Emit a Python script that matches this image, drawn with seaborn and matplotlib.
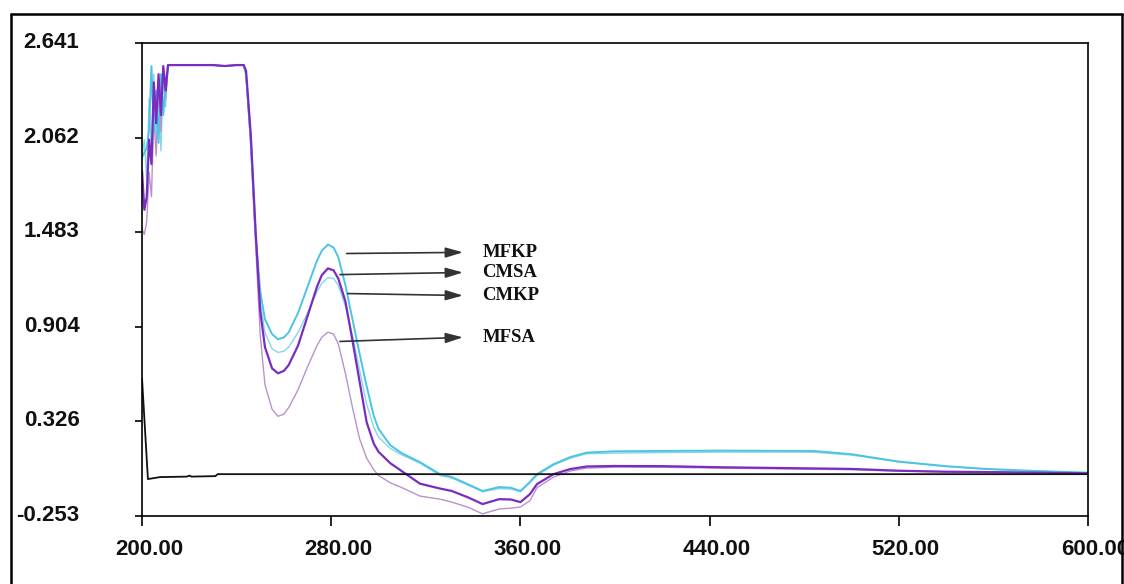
import matplotlib
matplotlib.use("Agg")
import matplotlib.pyplot as plt
import seaborn as sns
import pandas as pd
from matplotlib.lines import Line2D
from matplotlib.transforms import ScaledTranslation

# Wavelength grid (nm) shared by the four spectra
wl = [200, 201, 202, 203, 204, 205, 206, 207, 208, 209, 210, 211, 215, 220, 225,
      230, 235, 240, 243, 244, 246, 248, 250, 252, 255, 257.5, 260, 262, 266, 270,
      274, 276, 278.6, 281, 283, 286, 289, 292, 295, 298, 300, 305, 310, 317.5, 326,
      331, 338, 344, 351, 356, 360, 364, 367, 374, 381, 388, 400, 420, 445, 484,
      500, 520, 540, 556, 575, 600]

mfkp = [1.94, 1.97, 2.00, 2.11, 2.50, 2.10, 2.35, 2.03, 2.45, 2.20, 2.40, 2.506, 2.506, 2.506, 2.506,
        2.506, 2.50, 2.506, 2.506, 2.45, 2.05, 1.48, 1.12, 0.95, 0.86, 0.828, 0.84, 0.87, 0.99, 1.15,
        1.31, 1.37, 1.408, 1.39, 1.33, 1.16, 0.95, 0.74, 0.54, 0.36, 0.28, 0.18, 0.13, 0.077, 0.003,
        -0.015, -0.06, -0.10, -0.076, -0.08, -0.10, -0.045, 0.003, 0.064, 0.107, 0.135, 0.143, 0.145, 0.147, 0.145,
        0.125, 0.08, 0.052, 0.036, 0.024, 0.012]

cmsa = [1.86, 1.62, 1.70, 2.05, 1.90, 2.40, 2.15, 2.45, 2.20, 2.50, 2.35, 2.506, 2.506, 2.506, 2.506,
        2.506, 2.50, 2.506, 2.506, 2.47, 2.08, 1.50, 1.00, 0.78, 0.65, 0.62, 0.635, 0.67, 0.79, 0.97,
        1.15, 1.22, 1.262, 1.25, 1.20, 1.06, 0.82, 0.57, 0.32, 0.19, 0.14, 0.07, 0.02, -0.055, -0.085,
        -0.10, -0.14, -0.18, -0.15, -0.152, -0.168, -0.12, -0.058, 0.003, 0.034, 0.05, 0.053, 0.052, 0.045, 0.038,
        0.035, 0.024, 0.018, 0.016, 0.013, 0.008]

cmkp = [1.95, 2.05, 1.80, 2.30, 1.95, 2.45, 2.00, 2.40, 1.98, 2.45, 2.25, 2.506, 2.506, 2.506, 2.506,
        2.506, 2.50, 2.506, 2.506, 2.44, 2.02, 1.45, 1.05, 0.87, 0.77, 0.748, 0.755, 0.78, 0.87, 0.99,
        1.12, 1.17, 1.205, 1.20, 1.16, 1.03, 0.85, 0.64, 0.43, 0.29, 0.23, 0.16, 0.12, 0.07, -0.005,
        -0.02, -0.065, -0.105, -0.085, -0.088, -0.105, -0.05, -0.005, 0.058, 0.10, 0.128, 0.132, 0.135, 0.138, 0.137,
        0.12, 0.078, 0.05, 0.034, 0.022, 0.012]

mfsa = [1.50, 1.47, 1.55, 1.85, 1.70, 2.20, 1.95, 2.35, 2.10, 2.48, 2.30, 2.506, 2.506, 2.506, 2.506,
        2.506, 2.50, 2.506, 2.506, 2.45, 2.00, 1.42, 0.85, 0.55, 0.40, 0.357, 0.37, 0.41, 0.52, 0.66,
        0.79, 0.84, 0.872, 0.86, 0.80, 0.62, 0.41, 0.22, 0.10, 0.03, -0.005, -0.05, -0.08, -0.131, -0.15,
        -0.168, -0.20, -0.24, -0.21, -0.205, -0.198, -0.16, -0.08, -0.015, 0.022, 0.04, 0.046, 0.045, 0.040, 0.033,
        0.030, 0.022, 0.016, 0.014, 0.012, 0.008]

# Blank / reference baseline
base_wl = [200, 202.5, 207.6, 219, 220, 221, 231, 232, 600]
base = [0.59, -0.027, -0.015, -0.012, -0.006, -0.012, -0.009, 0.003, 0.003]

# Arrow labels: name, arrow start (nm, abs), arrow end (nm, abs)
labels = ["MFKP", "CMSA", "CMKP", "MFSA"]
arrow_start = [(286.5, 1.353), (283.7, 1.224), (287.0, 1.108), (283.7, 0.815)]
arrow_end = [(335.7, 1.360), (335.7, 1.237), (335.7, 1.096), (335.7, 0.840)]

xticks = [200, 280, 360, 440, 520, 600]
xtick_labels = ["200.00", "280.00", "360.00", "440.00", "520.00", "600.00"]
yticks = [-0.253, 0.326, 0.904, 1.483, 2.062, 2.641]
ytick_labels = ["-0.253", "0.326", "0.904", "1.483", "2.062", "2.641"]

sns.set_style("white")
plt.rcParams["font.family"] = ["Liberation Sans", "DejaVu Sans"]

W, H = 1124, 584
fig = plt.figure(figsize=(W / 100, H / 100), dpi=100)
ax = fig.add_axes([142 / W, (H - 516) / H, 946 / W, 473 / H])

spectra = pd.DataFrame({"wl": wl, "MFKP": mfkp, "CMSA": cmsa, "CMKP": cmkp, "MFSA": mfsa})

styles = [
    ("CMKP", "#86d6ea", 1.0),
    ("MFSA", "#b992cc", 1.0),
    ("MFKP", "#4cc4e2", 1.4),
    ("CMSA", "#7a2cc0", 1.6),
]
for name, color, lw in styles:
    sns.lineplot(data=spectra, x="wl", y=name, ax=ax, color=color, linewidth=lw,
                 estimator=None, sort=False)

sns.lineplot(x=base_wl, y=base, ax=ax, color="#111111", linewidth=1.3,
             estimator=None, sort=False)

for name, (x0, y0), (x1, y1) in zip(labels, arrow_start, arrow_end):
    ax.annotate("", xy=(x1, y1), xytext=(x0, y0),
                arrowprops=dict(arrowstyle="-|>,head_length=0.75,head_width=0.22",
                                mutation_scale=14, color="#333333", lw=1.2,
                                shrinkA=0, shrinkB=0))
    ax.text(344, y1, name, fontfamily="Liberation Serif", fontweight="bold",
            fontsize=13.5, va="center", ha="left", color="#111111")

ax.set_xlim(200, 600)
ax.set_ylim(-0.253, 2.641)
ax.set_xlabel("")
ax.set_ylabel("")
ax.set_xticks(xticks)
ax.set_xticklabels(xtick_labels)
ax.set_yticks(yticks)
ax.set_yticklabels(ytick_labels)

for s in ax.spines.values():
    s.set_visible(True)
    s.set_color("black")
    s.set_linewidth(1.2)

ax.tick_params(axis="x", direction="out", length=7.5, width=1.2, color="black",
               pad=9, labelsize=16, bottom=True)
ax.tick_params(axis="y", direction="out", length=5, width=1.2, color="black",
               pad=40, labelsize=16, left=True)
for lbl in ax.get_xticklabels() + ax.get_yticklabels():
    lbl.set_fontweight("bold")
    lbl.set_color("#111111")
for lbl in ax.get_xticklabels():
    lbl.set_transform(lbl.get_transform() + ScaledTranslation(7 / 100, 0, fig.dpi_scale_trans))
for lbl in ax.get_yticklabels():
    lbl.set_transform(lbl.get_transform() + ScaledTranslation(0, 3 / 100, fig.dpi_scale_trans))

# Outer frame around the whole panel
fx0, fx1, fy = 10.5 / W, 1121.5 / W, (H - 14) / H
for xs, ys in [([fx0, fx0], [0, fy]), ([fx0, fx1], [fy, fy]), ([fx1, fx1], [0, fy])]:
    fig.add_artist(Line2D(xs, ys, transform=fig.transFigure, color="black", lw=1.8, zorder=10))

fig.savefig("out.png", dpi=100)
